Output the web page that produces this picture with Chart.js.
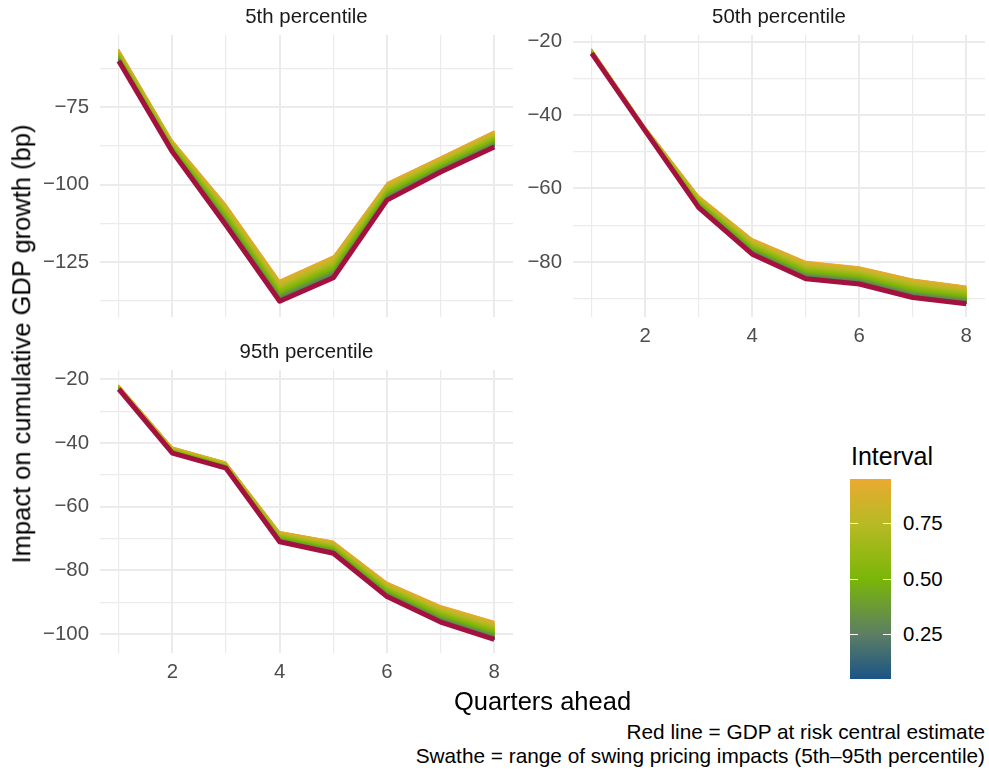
<!DOCTYPE html>
<html>
<head>
<meta charset="utf-8">
<script src="https://cdn.jsdelivr.net/npm/chart.js@4.4.1/dist/chart.umd.min.js"></script>
<style>
  body { margin: 0; background: #fff; width: 989px; height: 772px; position: relative; overflow: hidden; font-family: "Liberation Sans", Arial, sans-serif; }
  canvas { position: absolute; }
  .txt { position: absolute; line-height: 1; white-space: nowrap; }
  #colourbar { position: absolute; left: 850px; top: 479px; width: 41px; height: 200px; }
  .cbtick { position: absolute; height: 1px; width: 8px; background: #fff; }
</style>
</head>
<body>
<canvas id="p5" width="523" height="342" style="left:0px;top:5px"></canvas>
<canvas id="p50" width="522" height="382" style="left:473px;top:5px"></canvas>
<canvas id="p95" width="523" height="383" style="left:0px;top:340px"></canvas>
<div id="colourbar"></div>
<script>
// data
const quarters = [1, 2, 3, 4, 5, 6, 7, 8]
const xTickLabels = [2, 4, 6, 8]
const panelTitles = ['5th percentile', '50th percentile', '95th percentile']

const central5 = [-60.0, -89.4, -113.1, -137.7, -130.1, -105.0, -95.9, -87.8]
const swathe5 = [-55.9, -85.4, -106.1, -130.7, -122.8, -99.1, -90.8, -82.4]
const yTicks5 = [-75, -100, -125]
const yMinor5 = [-62.5, -87.5, -112.5, -137.5]

const central50 = [-23.2, -44.3, -65.2, -77.9, -84.6, -86.0, -89.7, -91.4]
const swathe50 = [-21.8, -43.0, -61.8, -73.5, -79.7, -81.2, -84.5, -86.4]
const yTicks50 = [-20, -40, -60, -80]
const yMinor50 = [-30, -50, -70, -90]

const central95 = [-23.1, -43.2, -47.9, -71.0, -74.6, -88.2, -96.2, -101.6]
const swathe95 = [-21.6, -41.1, -45.8, -67.6, -70.6, -83.5, -90.8, -95.8]
const yTicks95 = [-20, -40, -60, -80, -100]
const yMinor95 = [-30, -50, -70, -90]

const intervalTicks = [0.25, 0.5, 0.75]
const intervalRange = [0.05, 0.95]

// styles
const RED = 'rgb(165, 17, 63)'
const GRID = '#ebebeb'
const intervalStops = [
    [0.05, [27, 84, 134]],
    [0.25, [92, 126, 100]],
    [0.50, [122, 182, 8]],
    [0.75, [184, 186, 36]],
    [0.95, [234, 170, 48]]
]

Chart.defaults.font.family = '"Liberation Sans", Arial, sans-serif'

const intervalColour = (t) => {
    for (let i = 1; i < intervalStops.length; i++) {
        const [t0, c0] = intervalStops[i - 1]
        const [t1, c1] = intervalStops[i]
        if (t <= t1 || i === intervalStops.length - 1) {
            const f = Math.min(Math.max((t - t0) / (t1 - t0), 0), 1)
            const c = c0.map((v, k) => Math.round(v + f * (c1[k] - v)))
            return `rgb(${c[0]}, ${c[1]}, ${c[2]})`
        }
    }
}

const minus = (v) => (v < 0 ? '\u2212' + Math.abs(v) : String(v))

// swathe: paint bands from the central line up to the swathe edge, coloured by interval
const swathePlugin = {
    id: 'swathe',
    beforeDatasetsDraw(chart) {
        const low = chart.getDatasetMeta(0).data
        const high = chart.getDatasetMeta(1).data
        const ctx = chart.ctx
        const steps = 60
        ctx.save()
        for (let k = steps; k >= 1; k--) {
            const f = k / steps
            ctx.beginPath()
            low.forEach((p, i) => {
                const y = p.y + f * (high[i].y - p.y)
                if (i === 0) ctx.moveTo(p.x, y)
                else ctx.lineTo(p.x, y)
            })
            for (let i = low.length - 1; i >= 0; i--) ctx.lineTo(low[i].x, low[i].y)
            ctx.closePath()
            const u = Math.pow((k - 0.5) / steps, 0.75)
            ctx.fillStyle = intervalColour(intervalRange[0] + (intervalRange[1] - intervalRange[0]) * u)
            ctx.fill()
        }
        ctx.restore()
    }
}

const makePanel = (id, central, swathe, yMin, yMax, yTicks, yMinor, showX) => {
    const allY = yTicks.concat(yMinor).sort((a, b) => b - a)
    return new Chart(document.getElementById(id), {
        type: 'line',
        data: {
            datasets: [{
                data: quarters.map((q, i) => ({ x: q, y: central[i] })),
                borderColor: RED,
                borderWidth: 5,
                borderJoinStyle: 'round',
                borderCapStyle: 'butt',
                pointRadius: 0,
                fill: false,
                tension: 0
            }, {
                data: quarters.map((q, i) => ({ x: q, y: swathe[i] })),
                borderColor: 'rgba(0,0,0,0)',
                borderWidth: 0,
                pointRadius: 0,
                fill: false
            }]
        },
        options: {
            responsive: false,
            animation: false,
            layout: { padding: { top: 30, bottom: 30, left: 0, right: 10 } },
            plugins: { legend: { display: false }, tooltip: { enabled: false } },
            scales: {
                x: {
                    type: 'linear',
                    min: 0.65,
                    max: 8.35,
                    afterBuildTicks: (s) => { s.ticks = quarters.map(v => ({ value: v })) },
                    afterFit: (s) => { s.height = showX ? 40 : 0 },
                    ticks: {
                        display: showX,
                        padding: 7,
                        color: '#4d4d4d',
                        font: { size: 20.4 },
                        maxRotation: 0,
                        autoSkip: false,
                        callback: (v) => (xTickLabels.includes(v) ? String(v) : '')
                    },
                    grid: {
                        color: GRID,
                        drawTicks: false,
                        lineWidth: (c) => (xTickLabels.includes(c.tick.value) ? 2 : 1.2)
                    },
                    border: { display: false }
                },
                y: {
                    type: 'linear',
                    min: yMin,
                    max: yMax,
                    afterBuildTicks: (s) => { s.ticks = allY.map(v => ({ value: v })) },
                    afterFit: (s) => { s.width = 100 },
                    ticks: {
                        padding: 11,
                        color: '#4d4d4d',
                        font: { size: 20.4 },
                        autoSkip: false,
                        callback: (v) => (yTicks.includes(v) ? minus(v) : '')
                    },
                    grid: {
                        color: GRID,
                        drawTicks: false,
                        lineWidth: (c) => (yTicks.includes(c.tick.value) ? 2 : 1.2)
                    },
                    border: { display: false }
                }
            }
        },
        plugins: [swathePlugin]
    })
}

makePanel('p5', central5, swathe5, -142.8, -51.6, yTicks5, yMinor5, false)
makePanel('p50', central50, swathe50, -95.0, -18.2, yTicks50, yMinor50, true)
makePanel('p95', central95, swathe95, -105.9, -17.1, yTicks95, yMinor95, true)

// text
const addText = (text, x, baseline, size, align, colour) => {
    const el = document.createElement('div')
    el.className = 'txt'
    el.textContent = text
    el.style.fontSize = size + 'px'
    el.style.color = colour
    el.style.left = x + 'px'
    el.style.top = (baseline - 0.8465 * size) + 'px'
    const shift = align === 'center' ? '-50%' : align === 'right' ? '-100%' : '0'
    el.style.transform = `translateX(${shift})`
    document.body.appendChild(el)
    return el
}

addText(panelTitles[0], 306.5, 23, 20.4, 'center', '#1a1a1a')
addText(panelTitles[1], 779, 23, 20.4, 'center', '#1a1a1a')
addText(panelTitles[2], 306.5, 358, 20.4, 'center', '#1a1a1a')

addText('Quarters ahead', 542.5, 711, 25.5, 'center', '#000')
addText('Red line = GDP at risk central estimate', 985, 740, 20.8, 'right', '#000')
addText('Swathe = range of swing pricing impacts (5th\u201395th percentile)', 985, 764, 20.8, 'right', '#000')

const yTitle = document.createElement('div')
yTitle.className = 'txt'
yTitle.textContent = 'Impact on cumulative GDP growth (bp)'
yTitle.style.fontSize = '25.5px'
yTitle.style.left = '22px'
yTitle.style.top = '344px'
yTitle.style.transform = 'translate(-50%, -50%) rotate(-90deg)'
document.body.appendChild(yTitle)

// colour bar legend
const bar = document.getElementById('colourbar')
const span = intervalRange[1] - intervalRange[0]
bar.style.background = 'linear-gradient(to top, ' + intervalStops.map(([t]) =>
    `${intervalColour(t)} ${((t - intervalRange[0]) / span * 100).toFixed(1)}%`).join(', ') + ')'
addText('Interval', 851, 465, 25, 'left', '#000')
intervalTicks.forEach(t => {
    const y = 479 + (intervalRange[1] - t) / span * 200
    addText(t.toFixed(2), 903, y + 7.2, 20.4, 'left', '#000')
    ;[0, 33].forEach(dx => {
        const tk = document.createElement('div')
        tk.className = 'cbtick'
        tk.style.left = (850 + dx) + 'px'
        tk.style.top = Math.round(y - 0.5) + 'px'
        document.body.appendChild(tk)
    })
})
</script>
</body>
</html>
